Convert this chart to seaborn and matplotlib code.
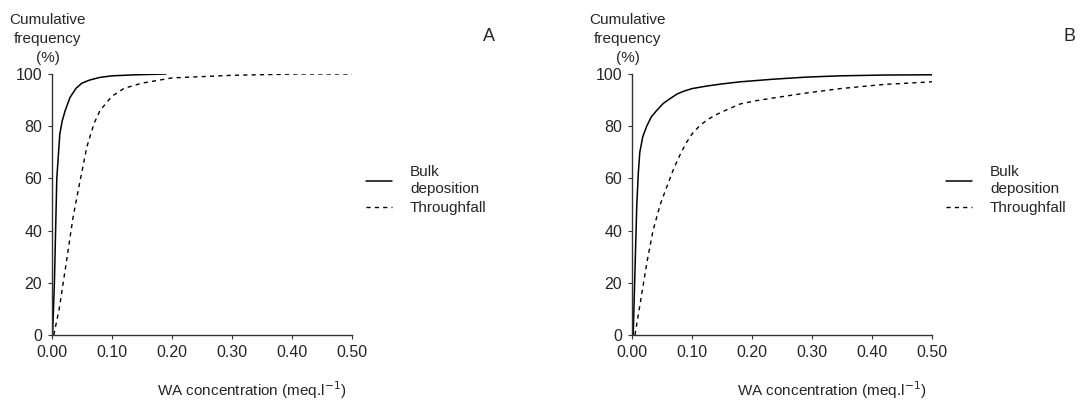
import matplotlib
matplotlib.use("Agg")
import matplotlib.pyplot as plt
import seaborn as sns

# panel A - cumulative frequency (%) vs WA concentration (meq/l)
a_bulk_x = [0.001, 0.004, 0.006, 0.008, 0.013, 0.017, 0.022, 0.030, 0.040, 0.050,
            0.063, 0.080, 0.100, 0.140, 0.190]
a_bulk_y = [0, 20, 40, 60, 77, 82, 86, 91, 94.5, 96.5, 97.7, 98.7, 99.3, 99.7, 100]
a_thr_x = [0.003, 0.012, 0.024, 0.035, 0.045, 0.058, 0.070, 0.080, 0.100, 0.120,
           0.150, 0.200, 0.300, 0.410, 0.500]
a_thr_y = [0, 10, 28, 45, 57, 72, 81, 86, 91.5, 94.5, 96.5, 98.5, 99.5, 100, 100]

# panel B
b_bulk_x = [0.002, 0.005, 0.008, 0.0105, 0.013, 0.018, 0.0245, 0.032, 0.041, 0.052,
            0.063, 0.075, 0.085, 0.100, 0.125, 0.150, 0.180, 0.235, 0.290, 0.347,
            0.420, 0.500]
b_bulk_y = [0, 25, 50, 62, 70, 76, 80, 83.5, 86, 88.7, 90.5, 92.3, 93.3, 94.4, 95.4,
            96.2, 97, 98, 98.8, 99.3, 99.6, 99.7]
b_thr_x = [0.005, 0.015, 0.025, 0.035, 0.047, 0.060, 0.070, 0.080, 0.090, 0.100,
           0.112, 0.125, 0.140, 0.158, 0.180, 0.205, 0.235, 0.290, 0.347, 0.420,
           0.500]
b_thr_y = [0, 14, 28, 40, 50, 58, 64, 69, 73.5, 77, 80, 82.4, 84.4, 86.3, 88.5, 89.7,
           90.8, 92.7, 94.4, 96, 97]

xticks = [0.0, 0.1, 0.2, 0.3, 0.4, 0.5]
yticks = [0, 20, 40, 60, 80, 100]
panels = [("A", a_bulk_x, a_bulk_y, a_thr_x, a_thr_y),
          ("B", b_bulk_x, b_bulk_y, b_thr_x, b_thr_y)]

sns.set_style("ticks")
plt.rcParams["font.family"] = ["Liberation Sans", "DejaVu Sans"]

fig = plt.figure(figsize=(10.8, 4.03), dpi=100)
lefts = [52 / 1080, 632 / 1080]

for left, (tag, bx, by, tx, ty) in zip(lefts, panels):
    ax = fig.add_axes([left, 68 / 403, 300 / 1080, 261 / 403])
    sns.lineplot(x=bx, y=by, ax=ax, color="black", lw=1.1, sort=False,
                 label="Bulk\ndeposition")
    sns.lineplot(x=tx, y=ty, ax=ax, color="black", lw=1.0, sort=False,
                 linestyle=(0, (3, 3)), label="Throughfall")
    ax.set_xlim(0, 0.5)
    ax.set_ylim(0, 100)
    ax.set_xticks(xticks)
    ax.set_xticklabels([f"{v:.2f}" for v in xticks])
    ax.set_yticks(yticks)
    ax.tick_params(length=3, width=0.8, labelsize=11.5, pad=4, color="#333333")
    sns.despine(ax=ax)
    for s in ("left", "bottom"):
        ax.spines[s].set_linewidth(1.0)
        ax.spines[s].set_color("#333333")
    ax.set_xlabel("WA concentration (meq.l$^{-1}$)", fontsize=11, labelpad=14)
    ax.xaxis.set_label_coords(0.665, -0.17)
    ax.set_ylabel("")
    ax.text(-0.014, 1.035, "Cumulative\nfrequency\n(%)", transform=ax.transAxes,
            ha="center", va="bottom", fontsize=11, linespacing=1.45)
    ax.text(1.457, 1.145, tag, transform=ax.transAxes, ha="center", va="center",
            fontsize=13)
    ax.legend(loc="center left", bbox_to_anchor=(1.0, 0.555), frameon=False,
              fontsize=11, handlelength=1.7, handletextpad=1.2, labelspacing=0.35)

fig.savefig("out.png", dpi=100)
